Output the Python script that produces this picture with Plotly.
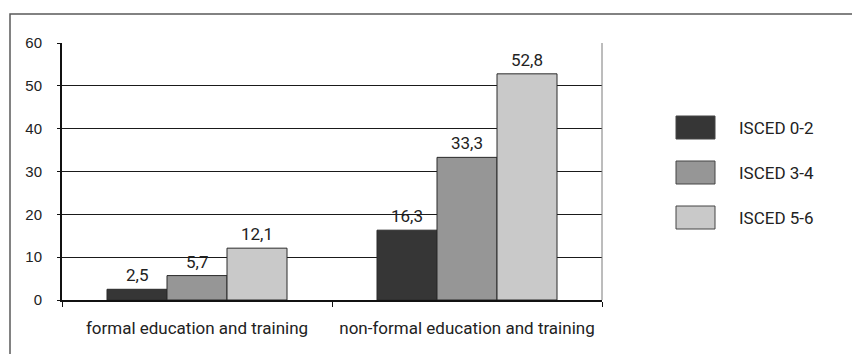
import plotly.graph_objects as go

# Participation in education and training by ISCED level (%)
categories = ["formal education and training", "non-formal education and training"]
series_names = ["ISCED 0-2", "ISCED 3-4", "ISCED 5-6"]
isced_0_2 = [2.5, 16.3]
isced_3_4 = [5.7, 33.3]
isced_5_6 = [12.1, 52.8]
series_values = [isced_0_2, isced_3_4, isced_5_6]
y_ticks = [0, 10, 20, 30, 40, 50, 60]

colors = ["#363636", "#969696", "#c9c9c9"]
FONT = "Roboto"

# Figure geometry (pixels)
W, H = 852, 354
ML, MR, MT, MB = 62, 250, 43, 54
PW, PH = W - ML - MR, H - MT - MB
BARGAP = 1 / 3
bar_px = PW / len(categories) * (1 - BARGAP) / len(series_names)


def px_x(px):
    return (px - ML) / PW


def px_y(py):
    return (H - MB - py) / PH


fig = go.Figure()
for name, vals, col in zip(series_names, series_values, colors):
    fig.add_trace(go.Bar(
        x=categories, y=vals, name=name,
        marker=dict(color=col, line=dict(color="#2a2a2a", width=1)),
        showlegend=False,
    ))

# value labels above each bar
annotations = []
n = len(series_names)
for i, vals in enumerate(series_values):
    offset = (i - (n - 1) / 2) * bar_px
    for cat, v in zip(categories, vals):
        annotations.append(dict(
            x=cat, y=v, xref="x", yref="y", text=f"{v:.1f}".replace(".", ","),
            showarrow=False, xanchor="center", yanchor="bottom",
            xshift=offset, yshift=2,
            font=dict(family=FONT, size=17, color="#222222"),
        ))

# legend drawn as large swatches with labels
shapes = []
legend_tops = [116, 161, 206]
for name, col, top in zip(series_names, colors, legend_tops):
    shapes.append(dict(
        type="rect", xref="paper", yref="paper",
        x0=px_x(676), x1=px_x(715), y0=px_y(top + 23), y1=px_y(top),
        fillcolor=col, line=dict(color="#444444", width=1),
    ))
    annotations.append(dict(
        x=px_x(737), y=px_y(top + 11.5), xref="paper", yref="paper",
        text=name, showarrow=False, xanchor="left", yanchor="middle",
        font=dict(family=FONT, size=17, color="#222222"),
    ))

# right edge of the plotting area
shapes.append(dict(
    type="line", xref="paper", yref="paper",
    x0=1, x1=1, y0=0, y1=1, line=dict(color="#7a7a7a", width=1),
))
# outer frame around the whole chart
shapes.append(dict(
    type="rect", xref="paper", yref="paper",
    x0=px_x(10), x1=px_x(W + 5), y0=px_y(H + 5), y1=px_y(14),
    line=dict(color="#5a5a5a", width=1.5), fillcolor="rgba(0,0,0,0)",
    layer="below",
))

fig.update_layout(
    width=W, height=H,
    margin=dict(l=ML, r=MR, t=MT, b=MB, pad=0),
    paper_bgcolor="white", plot_bgcolor="white",
    barmode="group", bargap=BARGAP, bargroupgap=0,
    font=dict(family=FONT, size=17, color="#222222"),
    annotations=annotations, shapes=shapes,
    showlegend=False,
)
fig.update_xaxes(
    showline=True, linecolor="#111111", linewidth=2,
    ticks="outside", tickson="boundaries", ticklen=5, tickcolor="#111111",
    tickfont=dict(family=FONT, size=17, color="#222222"),
    showgrid=False, ticklabelstandoff=12,
)
fig.update_yaxes(
    range=[0, 60], tickvals=y_ticks,
    showline=True, linecolor="#111111", linewidth=2,
    ticks="outside", ticklen=3, tickcolor="#111111",
    tickfont=dict(family="Liberation Sans", size=15, color="#222222"),
    showgrid=True, gridcolor="#1a1a1a", gridwidth=1,
    zeroline=False, ticklabelstandoff=12,
)

fig.write_html("out.html")
